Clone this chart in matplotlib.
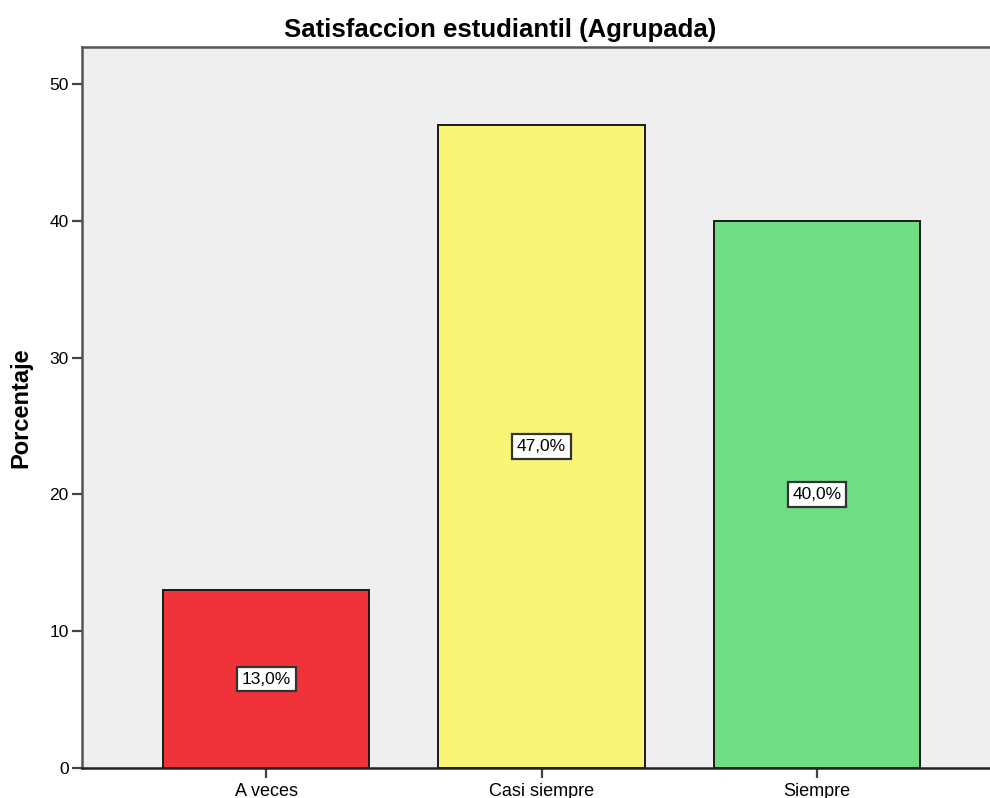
import matplotlib
matplotlib.use("Agg")
import matplotlib.pyplot as plt

plt.rcParams['font.family'] = ['Liberation Sans', 'DejaVu Sans']

categories = ["A veces", "Casi siempre", "Siempre"]
percentages = [13.0, 47.0, 40.0]
bar_colors = ["#F0323A", "#F8F577", "#70DC84"]
yticks = [0, 10, 20, 30, 40, 50]

fig = plt.figure(figsize=(9.9, 7.98), dpi=100)
ax = fig.add_axes([82 / 990, 1 - 768 / 798, 1 - 82 / 990, (768 - 47) / 798])
ax.set_facecolor("#EFEFEF")

x = list(range(len(categories)))
ax.bar(x, percentages, width=0.751, color=bar_colors, edgecolor="#1a1a1a", linewidth=1.4, zorder=2)

for xi, v in zip(x, percentages):
    ax.text(xi, v / 2, f"{v:.1f}%".replace(".", ","), ha="center", va="center", fontsize=12.5,
            bbox=dict(boxstyle="square,pad=0.28", facecolor="white", edgecolor="#333333", linewidth=1.6),
            zorder=3)

ax.set_xlim(-0.668, 2.628)
ax.set_ylim(0, 52.7)
ax.set_xticks(x)
ax.set_xticklabels(categories, fontsize=13)
ax.set_yticks(yticks)
ax.tick_params(axis="both", length=7.5, width=1.6, color="#444444", pad=3)
ax.tick_params(axis="y", labelsize=12.5, pad=2)

for side in ["left", "top", "bottom"]:
    ax.spines[side].set_color("#555555")
    ax.spines[side].set_linewidth(1.8)
ax.spines["bottom"].set_color("#222222")
ax.spines["right"].set_visible(False)

ax.set_ylabel("Porcentaje", fontsize=17, fontweight="bold", labelpad=12)
fig.text(500 / 990, 1 - 30 / 798, "Satisfaccion estudiantil (Agrupada)", ha="center", va="center",
         fontsize=18.5, fontweight="bold")

fig.savefig("out.png", dpi=100)
